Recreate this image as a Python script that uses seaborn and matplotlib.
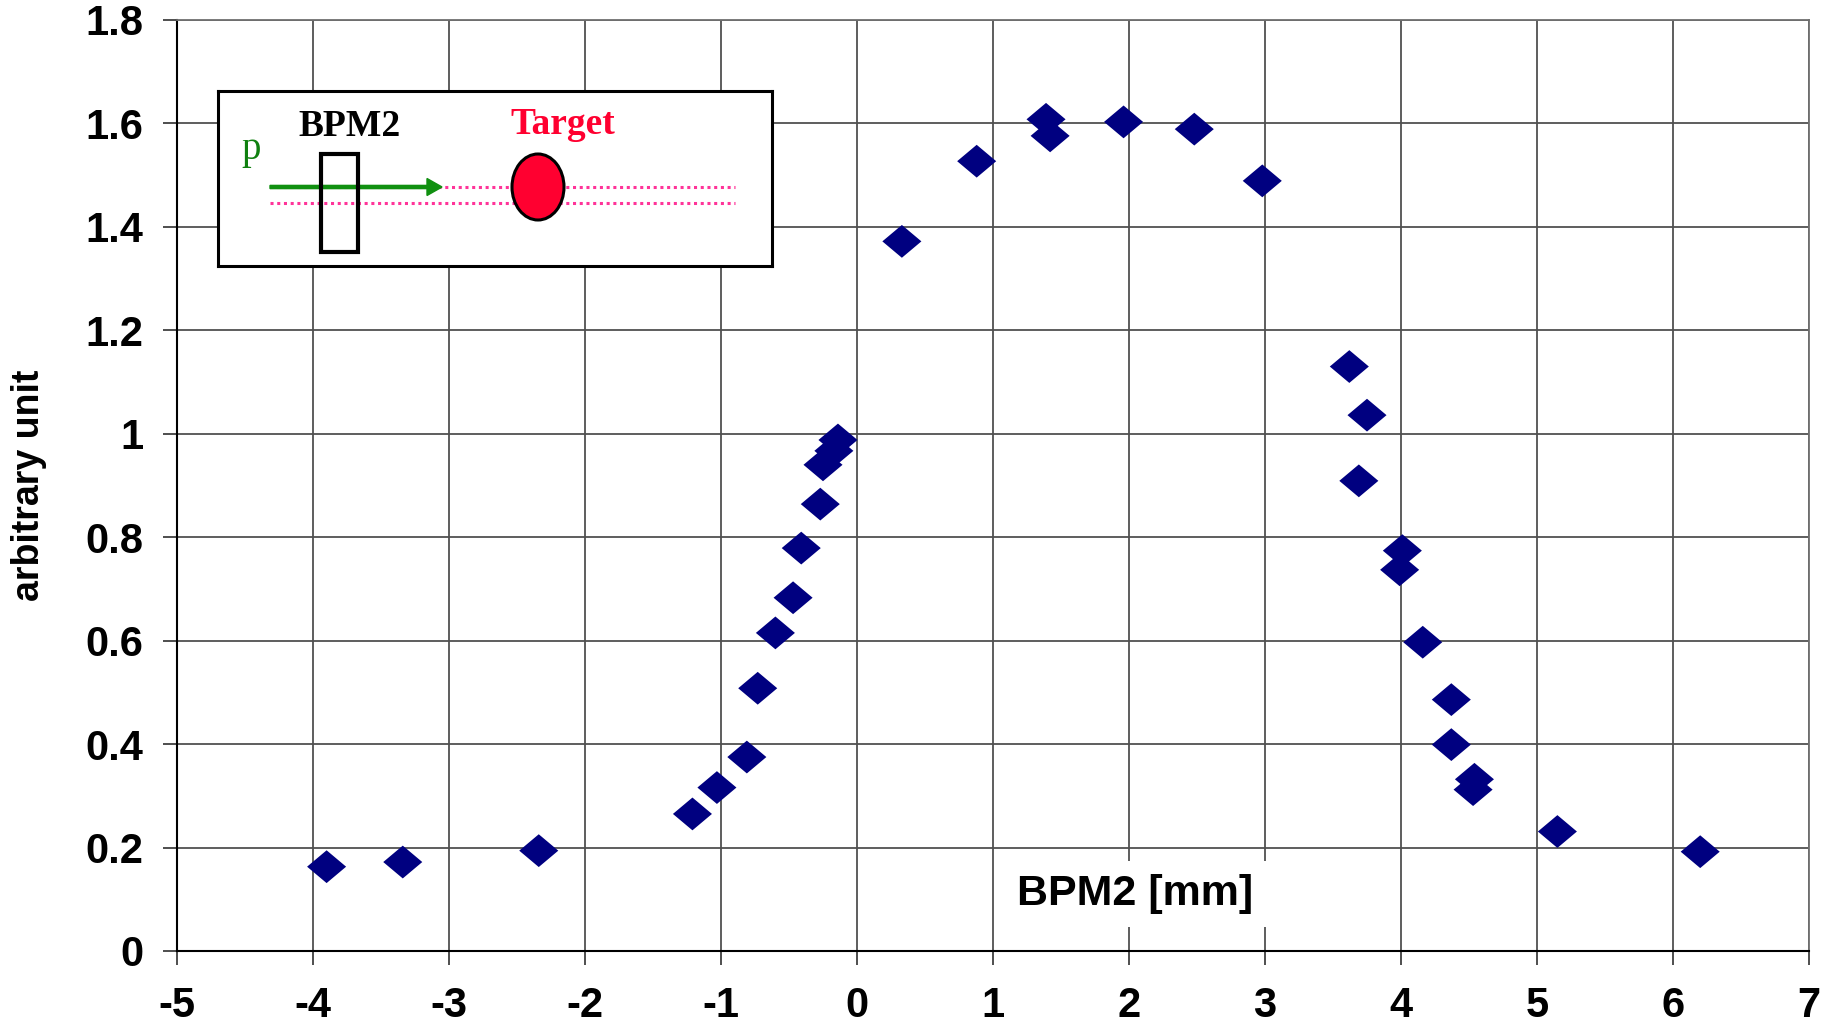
import numpy as np
import pandas as pd
import matplotlib
matplotlib.use("Agg")
import matplotlib.pyplot as plt
from matplotlib.path import Path
from matplotlib.patches import Rectangle, Ellipse, FancyArrow
import seaborn as sns

# Beam position scan: signal vs. BPM2 reading
bpm2_mm = [-3.90, -3.34, -2.34, -1.21, -1.03, -0.81, -0.73, -0.60, -0.47, -0.41,
           -0.27, -0.25, -0.17, -0.14, 0.33, 0.88, 1.39, 1.42, 1.96, 2.48,
           2.98, 3.62, 3.75, 3.69, 4.01, 3.99, 4.16, 4.37, 4.37, 4.54,
           4.53, 5.15, 6.20]
signal = [0.163, 0.172, 0.194, 0.265, 0.316, 0.375, 0.508, 0.615, 0.683, 0.779,
          0.864, 0.940, 0.967, 0.988, 1.372, 1.527, 1.608, 1.576, 1.603, 1.589,
          1.489, 1.130, 1.036, 0.909, 0.774, 0.737, 0.597, 0.486, 0.399, 0.332,
          0.312, 0.231, 0.192]
x_ticks = [-5, -4, -3, -2, -1, 0, 1, 2, 3, 4, 5, 6, 7]
y_ticks = [0, 0.2, 0.4, 0.6, 0.8, 1.0, 1.2, 1.4, 1.6, 1.8]
y_tick_labels = ["0", "0.2", "0.4", "0.6", "0.8", "1", "1.2", "1.4", "1.6", "1.8"]

df = pd.DataFrame({"bpm2": bpm2_mm, "signal": signal})

sns.set_theme(style="white")
plt.rcParams["font.family"] = ["Liberation Sans", "DejaVu Sans"]

W, H = 1828, 1025
fig = plt.figure(figsize=(W / 100, H / 100), dpi=100)
fig.patch.set_facecolor("white")

ax = fig.add_axes([177 / W, 1 - 951 / H, 1632 / W, 931 / H])

# slightly flattened diamond marker
diamond = Path([(-1, 0), (0, 0.84), (1, 0), (0, -0.84), (-1, 0)],
               [Path.MOVETO, Path.LINETO, Path.LINETO, Path.LINETO, Path.CLOSEPOLY])

sns.scatterplot(data=df, x="bpm2", y="signal", ax=ax, marker=diamond, s=790,
                color="#000080", edgecolor="none", linewidth=0, zorder=3, legend=False)

ax.set_xlim(-5, 7)
ax.set_ylim(0, 1.8)
ax.set_xticks(x_ticks)
ax.set_xticklabels([str(t) for t in x_ticks])
ax.set_yticks(y_ticks)
ax.set_yticklabels(y_tick_labels)
ax.grid(True, color="#505050", linewidth=1.3)
ax.set_axisbelow(True)

for side in ["left", "bottom"]:
    ax.spines[side].set_color("black")
    ax.spines[side].set_linewidth(1.5)
for side in ["top", "right"]:
    ax.spines[side].set_color("#707070")
    ax.spines[side].set_linewidth(1.3)

ax.tick_params(axis="both", which="major", direction="out", length=10, width=1.3,
               color="#404040", labelsize=30, labelcolor="black", left=True, bottom=True)
ax.tick_params(axis="x", pad=15)
ax.tick_params(axis="y", pad=14)
for lab in ax.get_xticklabels() + ax.get_yticklabels():
    lab.set_fontweight("bold")
    lab.set_color("black")

ax.set_xlabel("")
ax.set_ylabel("")
ax.text(0.5868, 0.110 / 1.8, "BPM2 [mm]", transform=ax.transAxes, ha="center", va="center",
        fontsize=31, fontweight="bold", color="black", zorder=4,
        bbox=dict(boxstyle="square,pad=0.3", facecolor="white", edgecolor="none"))
fig.text(29 / W, 1 - 485 / H, "arbitrary unit", rotation=90, ha="center", va="center",
         fontsize=27, fontweight="bold", color="black")

# beam-line sketch in the upper-left corner
bw, bh = 554, 175
ins = fig.add_axes([218 / W, 1 - 266 / H, bw / W, bh / H])
ins.set_xlim(0, bw)
ins.set_ylim(bh, 0)
ins.set_xticks([])
ins.set_yticks([])
ins.set_facecolor("white")
for sp in ins.spines.values():
    sp.set_color("black")
    sp.set_linewidth(2.2)

serif = ["Liberation Serif", "DejaVu Serif"]
pink = "#FF3399"
ins.plot([52, 517], [96, 96], linestyle=(0, (1, 1.2)), color=pink, linewidth=2.2, zorder=2)
ins.plot([52, 517], [112, 112], linestyle=(0, (1, 1.2)), color=pink, linewidth=2.2, zorder=2)
ins.add_patch(FancyArrow(52, 96, 172, 0, width=3.2, head_width=17, head_length=15,
                         length_includes_head=True, color="#109010", zorder=3))
ins.add_patch(Rectangle((103, 63), 37, 98, facecolor="none", edgecolor="black",
                        linewidth=3.0, zorder=4))
ins.add_patch(Ellipse((320, 96), 52, 66, facecolor="#FF0030", edgecolor="black",
                      linewidth=2.2, zorder=4))
ins.text(132, 35, "BPM2", fontsize=27, fontweight="bold", family=serif, color="black",
         ha="center", va="center")
ins.text(345, 33, "Target", fontsize=27, fontweight="bold", family=serif, color="#FF0030",
         ha="center", va="center")
ins.text(33, 58, "p", fontsize=28, family=serif, color="#108010", ha="center", va="center")

fig.savefig("out.png", dpi=100, facecolor="white")
